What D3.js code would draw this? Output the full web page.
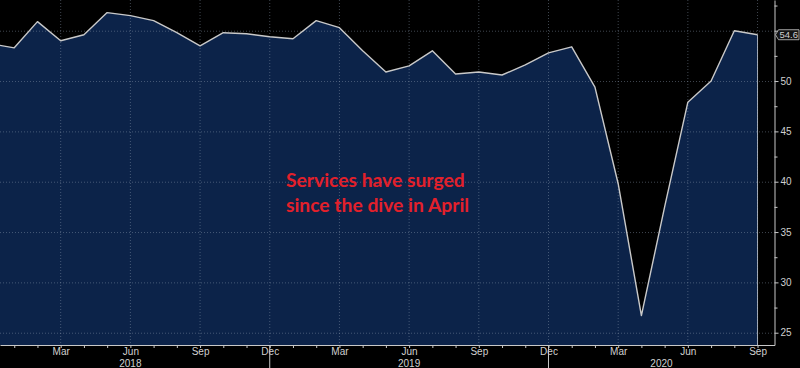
<!DOCTYPE html>
<html>
<head>
<meta charset="utf-8">
<script src="https://cdn.jsdelivr.net/npm/d3@7"></script>
<style>
  html, body { margin: 0; background: #000; }
  svg { display: block; }
  .axis text { font-family: "Liberation Sans Narrow", "Liberation Sans", sans-serif; font-size: 10px; fill: #d0d0d0; }
  .axis path, .axis line { stroke: #c8c8c8; }
  .grid line { stroke: #8b9bb0; stroke-opacity: 0.45; stroke-dasharray: 1,2; }
  .note { font-family: Lato, "Open Sans", sans-serif; font-weight: 700; font-size: 19.3px; fill: #e3202b; }
</style>
</head>
<body>
<svg id="chart" width="800" height="368"></svg>
<script>
// US services PMI, monthly, Dec 2017 .. Sep 2020
const months = [
  "2017-12",
  "2018-01", "2018-02", "2018-03", "2018-04", "2018-05", "2018-06",
  "2018-07", "2018-08", "2018-09", "2018-10", "2018-11", "2018-12",
  "2019-01", "2019-02", "2019-03", "2019-04", "2019-05", "2019-06",
  "2019-07", "2019-08", "2019-09", "2019-10", "2019-11", "2019-12",
  "2020-01", "2020-02", "2020-03", "2020-04", "2020-05", "2020-06",
  "2020-07", "2020-08", "2020-09",
];
const pmi = [
  53.7,
  53.3, 55.9, 54.0, 54.6, 56.8, 56.5,
  56.0, 54.8, 53.5, 54.8, 54.7, 54.4,
  54.2, 56.0, 55.3, 53.0, 50.9, 51.5,
  53.0, 50.7, 50.9, 50.6, 51.6, 52.8,
  53.4, 49.4, 39.8, 26.7, 37.5, 47.9,
  50.0, 55.0, 54.6,
];
const yTicks = [25, 30, 35, 40, 45, 50, 55];
const yMinorTicks = [27.5, 32.5, 37.5, 42.5, 47.5, 52.5, 57.5];
const quarterMonths = ["Mar", "Jun", "Sep", "Dec"];
const yearLabels = ["2018", "2019", "2020"];
const noteLines = ["Services have surged", "since the dive in April"];

const width = 800, height = 368;
const plot = { left: 0, right: 774.5, top: 0, bottom: 345 };

const parse = d3.timeParse("%Y-%m");
const monthName = d3.timeFormat("%b");
const data = months.map((m, i) => ({ i, date: parse(m), v: pmi[i] }));
const last = data[data.length - 1];

// months are evenly spaced on the axis, so position by month index
const x = d3.scaleLinear().domain([0.387, 33.73]).range([plot.left, plot.right]);
const y = d3.scaleLinear().domain([23.78, 58.05]).range([plot.bottom, plot.top]);
const inView = i => i >= x.domain()[0] && i <= x.domain()[1];

const svg = d3.select("#chart");

svg.append("defs").append("clipPath").attr("id", "plot-clip")
  .append("rect")
  .attr("x", plot.left).attr("y", plot.top)
  .attr("width", plot.right - plot.left).attr("height", plot.bottom - plot.top);

const g = svg.append("g").attr("clip-path", "url(#plot-clip)");

g.append("path").datum(data)
  .attr("fill", "#0c2349")
  .attr("d", d3.area().x(d => x(d.i)).y0(plot.bottom).y1(d => y(d.v)));

// edge of the filled area at the last observation
g.append("line")
  .attr("x1", x(last.i)).attr("x2", x(last.i))
  .attr("y1", y(last.v)).attr("y2", plot.bottom)
  .attr("stroke", "#a8b0bc").attr("stroke-width", 1);

// dotted grid, drawn over the area
const quarterIdx = data
  .filter(d => quarterMonths.includes(monthName(d.date)) && inView(d.i))
  .map(d => d.i);
const grid = g.append("g").attr("class", "grid");
grid.selectAll("line.h").data(yTicks).join("line").attr("class", "h")
  .attr("x1", plot.left).attr("x2", plot.right)
  .attr("y1", d => y(d) + 0.5).attr("y2", d => y(d) + 0.5);
grid.selectAll("line.v").data(quarterIdx).join("line").attr("class", "v")
  .attr("x1", d => x(d)).attr("x2", d => x(d))
  .attr("y1", plot.top).attr("y2", plot.bottom);

g.append("path").datum(data)
  .attr("fill", "none")
  .attr("stroke", "#c9c9c9")
  .attr("stroke-width", 1.4)
  .attr("stroke-linejoin", "round")
  .attr("d", d3.line().x(d => x(d.i)).y(d => y(d.v)));

// bottom axis: a tick every month, a label every quarter
const xAxis = svg.append("g").attr("class", "axis")
  .attr("transform", `translate(0,${plot.bottom})`)
  .call(d3.axisBottom(x)
    .tickValues(data.map(d => d.i).filter(inView))
    .tickSize(3).tickSizeOuter(0).tickPadding(0)
    .tickFormat(i => quarterIdx.includes(i) ? monthName(data[i].date) : ""));

// year separators (at each December) and centred year labels
const decIdx = data.filter(d => monthName(d.date) === "Dec").map(d => d.i);
xAxis.selectAll("line.year-sep").data(decIdx.filter(inView)).join("line").attr("class", "year-sep")
  .attr("x1", d => x(d)).attr("x2", d => x(d))
  .attr("y1", 0).attr("y2", height - plot.bottom)
  .attr("stroke", "#777");
xAxis.selectAll("text.year").data(yearLabels).join("text").attr("class", "year")
  .attr("x", (d, k) => {
    const a = decIdx[k];
    const b = k + 1 < decIdx.length ? decIdx[k + 1] : x.domain()[1];
    return x((a + b) / 2);
  })
  .attr("y", 21.5)
  .attr("text-anchor", "middle")
  .text(d => d);

// right value axis; the 55 label sits under the last-value tag
const yAxis = svg.append("g").attr("class", "axis")
  .attr("transform", `translate(${plot.right},0)`);
yAxis.call(d3.axisRight(y).tickValues(yTicks).tickSize(4).tickSizeOuter(0).tickPadding(2)
  .tickFormat(v => Math.abs(y(v) - y(last.v)) < 8 ? "" : v));
yAxis.append("g")
  .call(d3.axisRight(y).tickValues(yMinorTicks).tickSize(3).tickFormat(""))
  .select(".domain").remove();

// last-value tag
const ty = y(last.v);
yAxis.append("path")
  .attr("d", `M1,${ty} L4,${ty - 5} L24.5,${ty - 5} L24.5,${ty + 5} L4,${ty + 5} Z`)
  .attr("fill", "#141414").attr("stroke", "#d8d8d8").attr("stroke-width", 0.8);
yAxis.append("text")
  .attr("x", 5).attr("y", ty).attr("dy", "0.35em")
  .style("font-size", "9.5px")
  .text(d3.format(".1f")(last.v));

// annotation
svg.append("g").selectAll("text").data(noteLines).join("text")
  .attr("class", "note")
  .attr("x", 286)
  .attr("y", (d, k) => 186.5 + k * 25)
  .text(d => d);
</script>
</body>
</html>
